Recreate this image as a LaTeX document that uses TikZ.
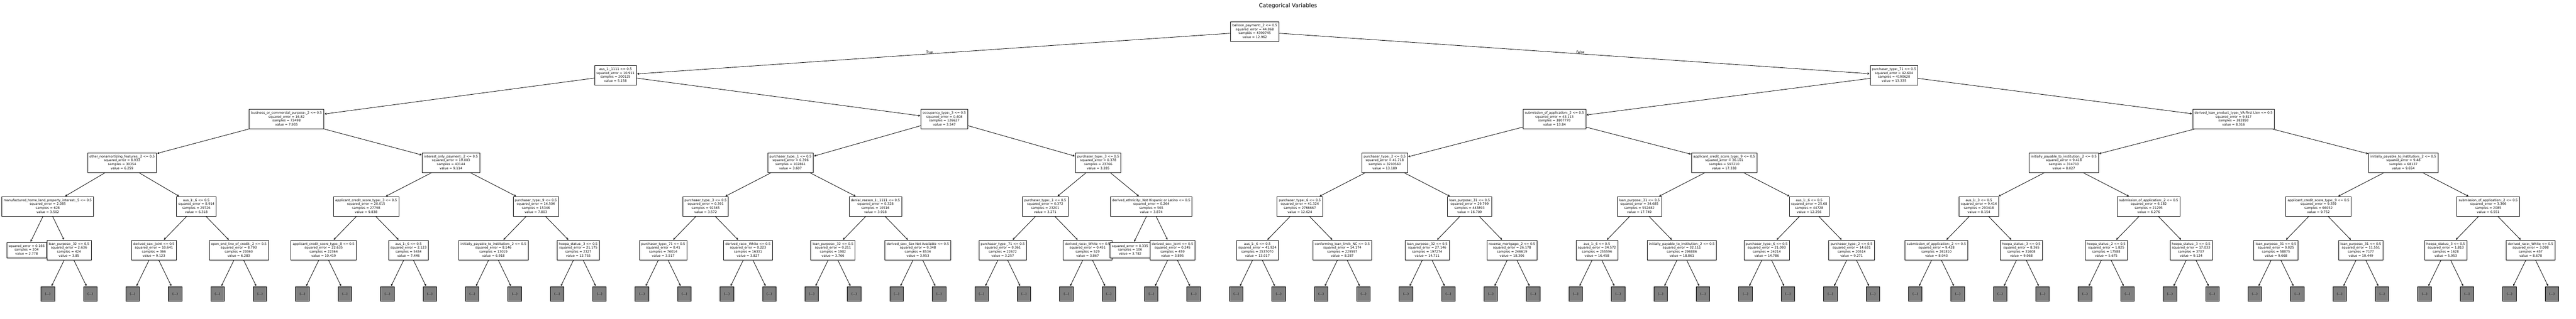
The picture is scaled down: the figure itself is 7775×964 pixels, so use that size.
\documentclass[tikz,border=0pt]{standalone}
\usepackage{fontspec}
\setmainfont{DejaVu Sans}
\usetikzlibrary{arrows.meta}
\definecolor{tgray}{HTML}{808080}
\newcommand{\tfont}{\fontsize{9.65}{12}\selectfont}
\newcommand{\tfour}[4]{\strut #1\\\strut squared\_error = #2\\\strut samples = #3\\\strut value = #4}
\newcommand{\tthree}[3]{\strut squared\_error = #1\\\strut samples = #2\\\strut value = #3}
\begin{document}
\begin{tikzpicture}[x=1pt,y=-1pt,
  tnode/.style={draw=black, fill=white, line width=1.3pt, rectangle, align=center, inner xsep=5.5pt, inner ysep=5.5pt, font=\tfont},
  gnode/.style={draw=black, fill=tgray, line width=1.3pt, rectangle, minimum width=41pt, minimum height=44pt, inner sep=0pt, font=\tfont},
  edge/.style={line width=1.3pt, -{Straight Barb[length=4.5pt,width=5pt]}, shorten >=1.5pt},
  lbl/.style={inner sep=0pt, font=\tfont}]
\fill[white] (0,0) rectangle (7775,964);
\useasboundingbox (0,0) rectangle (7775,964);

\node[inner sep=0pt, anchor=base, font=\fontsize{16.57}{20}\selectfont] (title) at (3887.5,22) {Categorical Variables};

% level 0
\node[tnode] (r) at (3787.1,95.5) {\tfour{balloon\_payment:\_2 <= 0.5}{44.068}{4390745}{12.962}};
% level 1
\node[tnode] (a) at (1857.6,227.6) {\tfour{aus\_1:\_1111 <= 0.5}{10.911}{200125}{5.158}};
\node[tnode] (b) at (5716.6,227.6) {\tfour{purchaser\_type:\_71 <= 0.5}{42.604}{4190620}{13.335}};
% level 2
\node[tnode] (aa) at (864.8,359.7) {\tfour{business\_or\_commercial\_purpose:\_2 <= 0.5}{16.82}{73498}{7.935}};
\node[tnode] (ab) at (2850.35,359.7) {\tfour{occupancy\_type:\_3 <= 0.5}{0.408}{126627}{3.547}};
\node[tnode] (ba) at (4691.8,359.7) {\tfour{submission\_of\_application:\_2 <= 0.5}{43.113}{3807770}{13.84}};
\node[tnode] (bb) at (6741.4,359.7) {\tfour{derived\_loan\_product\_type:\_VA:First Lien <= 0.5}{9.817}{382850}{8.316}};
% level 3
\node[tnode] (aaa) at (368.4,491.8) {\tfour{other\_nonamortizing\_features:\_2 <= 0.5}{8.933}{30354}{6.259}};
\node[tnode] (aab) at (1361.2,491.8) {\tfour{interest\_only\_payment:\_2 <= 0.5}{19.003}{43144}{9.114}};
\node[tnode] (aba) at (2386,491.8) {\tfour{purchaser\_type:\_1 <= 0.5}{0.396}{102861}{3.607}};
\node[tnode] (abb) at (3314.7,491.8) {\tfour{purchaser\_type:\_3 <= 0.5}{0.378}{23766}{3.285}};
\node[tnode] (baa) at (4179.4,491.8) {\tfour{purchaser\_type:\_2 <= 0.5}{41.718}{3210560}{13.189}};
\node[tnode] (bab) at (5204.2,491.8) {\tfour{applicant\_credit\_score\_type:\_9 <= 0.5}{36.101}{597210}{17.338}};
\node[tnode] (bba) at (6229,491.8) {\tfour{initially\_payable\_to\_institution:\_2 <= 0.5}{9.418}{314713}{8.027}};
\node[tnode] (bbb) at (7253.8,491.8) {\tfour{initially\_payable\_to\_institution:\_2 <= 0.5}{9.48}{68137}{9.654}};
% level 4
\node[tnode] (n1) at (144.25,623.9) {\tfour{manufactured\_home\_land\_property\_interest:\_5 <= 0.5}{2.085}{628}{3.502}};
\node[tnode] (n2) at (592.6,623.9) {\tfour{aus\_1:\_6 <= 0.5}{8.914}{29726}{6.318}};
\node[tnode] (n3) at (1105.0,623.9) {\tfour{applicant\_credit\_score\_type:\_3 <= 0.5}{20.015}{27798}{9.838}};
\node[tnode] (n4) at (1617.4,623.9) {\tfour{purchaser\_type:\_9 <= 0.5}{14.504}{15346}{7.803}};
\node[tnode] (n5) at (2129.8,623.9) {\tfour{purchaser\_type:\_3 <= 0.5}{0.391}{92345}{3.572}};
\node[tnode] (n6) at (2642.2,623.9) {\tfour{denial\_reason\_1:\_1111 <= 0.5}{0.328}{10516}{3.918}};
\node[tnode] (n7) at (3154.6,623.9) {\tfour{purchaser\_type:\_1 <= 0.5}{0.372}{23201}{3.271}};
\node[tnode] (n8) at (3474.85,623.9) {\tfour{derived\_ethnicity:\_Not Hispanic or Latino <= 0.5}{0.264}{565}{3.874}};
\node[tnode] (n9) at (3923.2,623.9) {\tfour{purchaser\_type:\_6 <= 0.5}{41.324}{2766667}{12.624}};
\node[tnode] (n10) at (4435.6,623.9) {\tfour{loan\_purpose:\_31 <= 0.5}{29.799}{443893}{16.709}};
\node[tnode] (n11) at (4948.0,623.9) {\tfour{loan\_purpose:\_31 <= 0.5}{34.685}{552482}{17.749}};
\node[tnode] (n12) at (5460.4,623.9) {\tfour{aus\_1:\_6 <= 0.5}{25.68}{44728}{12.256}};
\node[tnode] (n13) at (5972.8,623.9) {\tfour{aus\_1:\_3 <= 0.5}{9.414}{293418}{8.154}};
\node[tnode] (n14) at (6485.2,623.9) {\tfour{submission\_of\_application:\_2 <= 0.5}{6.182}{21295}{6.276}};
\node[tnode] (n15) at (6997.6,623.9) {\tfour{applicant\_credit\_score\_type:\_9 <= 0.5}{9.359}{66052}{9.752}};
\node[tnode] (n16) at (7510.0,623.9) {\tfour{submission\_of\_application:\_2 <= 0.5}{3.366}{2085}{6.551}};
% level 5
\node[tnode] (m1) at (80.2,756) {\tthree{0.166}{204}{2.778}};
\node[tnode] (m2) at (208.3,756) {\tfour{loan\_purpose:\_32 <= 0.5}{2.636}{424}{3.85}};
\node[tnode] (m3) at (464.5,756) {\tfour{derived\_sex:\_Joint <= 0.5}{10.641}{366}{9.123}};
\node[tnode] (m4) at (720.7,756) {\tfour{open\_end\_line\_of\_credit:\_2 <= 0.5}{8.793}{29360}{6.283}};
\node[tnode] (m5) at (976.9,756) {\tfour{applicant\_credit\_score\_type:\_8 <= 0.5}{22.635}{22364}{10.419}};
\node[tnode] (m6) at (1233.1,756) {\tfour{aus\_1:\_6 <= 0.5}{2.123}{5434}{7.446}};
\node[tnode] (m7) at (1489.3,756) {\tfour{initially\_payable\_to\_institution:\_2 <= 0.5}{8.146}{13019}{6.918}};
\node[tnode] (m8) at (1745.5,756) {\tfour{hoepa\_status:\_3 <= 0.5}{21.175}{2327}{12.755}};
\node[tnode] (m9) at (2001.7,756) {\tfour{purchaser\_type:\_71 <= 0.5}{0.41}{76014}{3.517}};
\node[tnode] (m10) at (2257.9,756) {\tfour{derived\_race:\_White <= 0.5}{0.223}{16331}{3.827}};
\node[tnode] (m11) at (2514.1,756) {\tfour{loan\_purpose:\_32 <= 0.5}{0.211}{1982}{3.766}};
\node[tnode] (m12) at (2770.3,756) {\tfour{derived\_sex:\_Sex Not Available <= 0.5}{0.348}{8534}{3.953}};
\node[tnode] (m13) at (3026.5,756) {\tfour{purchaser\_type:\_71 <= 0.5}{0.361}{22672}{3.257}};
\node[tnode] (m14) at (3282.7,756) {\tfour{derived\_race:\_White <= 0.5}{0.451}{529}{3.867}};
\node[tnode] (m15) at (3410.8,756) {\tthree{0.335}{106}{3.782}};
\node[tnode] (m16) at (3538.9,756) {\tfour{derived\_sex:\_Joint <= 0.5}{0.245}{459}{3.895}};
\node[tnode] (m17) at (3795.1,756) {\tfour{aus\_1:\_6 <= 0.5}{41.924}{2537070}{13.017}};
\node[tnode] (m18) at (4051.3,756) {\tfour{conforming\_loan\_limit:\_NC <= 0.5}{14.174}{229597}{8.287}};
\node[tnode] (m19) at (4307.5,756) {\tfour{loan\_purpose:\_32 <= 0.5}{27.146}{197274}{14.711}};
\node[tnode] (m20) at (4563.7,756) {\tfour{reverse\_mortgage:\_2 <= 0.5}{26.178}{246619}{18.306}};
\node[tnode] (m21) at (4819.9,756) {\tfour{aus\_1:\_6 <= 0.5}{34.572}{255596}{16.458}};
\node[tnode] (m22) at (5076.1,756) {\tfour{initially\_payable\_to\_institution:\_2 <= 0.5}{32.111}{296886}{18.861}};
\node[tnode] (m23) at (5332.3,756) {\tfour{purchaser\_type:\_6 <= 0.5}{21.093}{24214}{14.786}};
\node[tnode] (m24) at (5588.5,756) {\tfour{purchaser\_type:\_2 <= 0.5}{14.631}{20514}{9.271}};
\node[tnode] (m25) at (5844.7,756) {\tfour{submission\_of\_application:\_2 <= 0.5}{9.428}{261810}{8.043}};
\node[tnode] (m26) at (6100.9,756) {\tfour{hoepa\_status:\_3 <= 0.5}{8.365}{31608}{9.068}};
\node[tnode] (m27) at (6357.1,756) {\tfour{hoepa\_status:\_2 <= 0.5}{1.825}{17588}{5.675}};
\node[tnode] (m28) at (6613.3,756) {\tfour{hoepa\_status:\_3 <= 0.5}{17.033}{3707}{9.124}};
\node[tnode] (m29) at (6869.5,756) {\tfour{loan\_purpose:\_31 <= 0.5}{9.025}{58875}{9.668}};
\node[tnode] (m30) at (7125.7,756) {\tfour{loan\_purpose:\_31 <= 0.5}{11.551}{7177}{10.449}};
\node[tnode] (m31) at (7381.9,756) {\tfour{hoepa\_status:\_3 <= 0.5}{1.813}{1628}{5.953}};
\node[tnode] (m32) at (7638.1,756) {\tfour{derived\_race:\_White <= 0.5}{3.098}{457}{8.678}};

% True / False labels
\node[lbl, anchor=base east] (tlab) at (2816.3,161.5) {True};
\node[lbl, anchor=base west] (flab) at (4758,161.5) {False};

% edges upper levels
\draw[edge] (r) -- (a);
\draw[edge] (r) -- (b);
\draw[edge] (a) -- (aa);
\draw[edge] (a) -- (ab);
\draw[edge] (b) -- (ba);
\draw[edge] (b) -- (bb);
\draw[edge] (aa) -- (aaa);
\draw[edge] (aa) -- (aab);
\draw[edge] (ab) -- (aba);
\draw[edge] (ab) -- (abb);
\draw[edge] (ba) -- (baa);
\draw[edge] (ba) -- (bab);
\draw[edge] (bb) -- (bba);
\draw[edge] (bb) -- (bbb);
\draw[edge] (aaa) -- (n1);
\draw[edge] (aaa) -- (n2);
\draw[edge] (aab) -- (n3);
\draw[edge] (aab) -- (n4);
\draw[edge] (aba) -- (n5);
\draw[edge] (aba) -- (n6);
\draw[edge] (abb) -- (n7);
\draw[edge] (abb) -- (n8);
\draw[edge] (baa) -- (n9);
\draw[edge] (baa) -- (n10);
\draw[edge] (bab) -- (n11);
\draw[edge] (bab) -- (n12);
\draw[edge] (bba) -- (n13);
\draw[edge] (bba) -- (n14);
\draw[edge] (bbb) -- (n15);
\draw[edge] (bbb) -- (n16);
\foreach \i in {1,...,16} {
  \pgfmathtruncatemacro{\ja}{2*\i-1}
  \pgfmathtruncatemacro{\jb}{2*\i}
  \draw[edge] (n\i) -- (m\ja);
  \draw[edge] (n\i) -- (m\jb);
}

% truncated children
\foreach \k in {2,3,4,5,6,7,8,9,10,11,12,13,14,16,17,18,19,20,21,22,23,24,25,26,27,28,29,30,31,32} {
  \path (m\k) ++(-64.05,132.1) node[gnode] (g\k-a) {(...)};
  \path (m\k) ++(64.05,132.1) node[gnode] (g\k-b) {(...)};
  \draw[edge] (m\k) -- (g\k-a);
  \draw[edge] (m\k) -- (g\k-b);
}
\end{tikzpicture}
\end{document}
